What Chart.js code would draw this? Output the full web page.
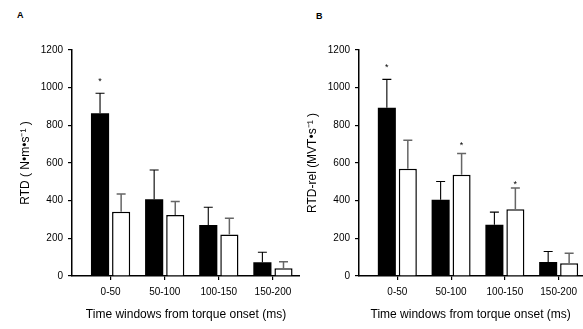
<!DOCTYPE html>
<html>
<head>
<meta charset="utf-8">
<script src="https://cdn.jsdelivr.net/npm/chart.js@4.4.0/dist/chart.umd.min.js"></script>
<style>
  body { margin: 0; background: #fff; width: 583px; height: 329px; position: relative; overflow: hidden; }
  .panel { position: absolute; top: 0; height: 329px; }
  .letter { position: absolute; font: bold 9px "Liberation Sans", Arial, sans-serif; color: #000; }
</style>
</head>
<body>
<div class="letter" style="left:17px;top:10px">A</div>
<div class="letter" style="left:316px;top:11px">B</div>
<div class="panel" style="left:0;width:300px"><canvas id="chartA"></canvas></div>
<div class="panel" style="left:287px;width:296px"><canvas id="chartB"></canvas></div>
<script>
// time windows (ms)
const windows = ['0-50', '50-100', '100-150', '150-200']
const yTicks = [0, 200, 400, 600, 800, 1000, 1200]

// panel A: RTD (N·m·s-1)
const rtdBlack = [864, 407, 271, 73]
const rtdBlackSD = [106, 156, 94, 53]
const rtdWhite = [341, 324, 221, 41]
const rtdWhiteSD = [94, 71, 85, 35]
const rtdStarBlack = [1045, null, null, null]
const rtdStarWhite = [null, null, null, null]

// panel B: RTD-rel (MVT·s-1)
const relBlack = [893, 405, 272, 75]
const relBlackSD = [151, 97, 67, 55]
const relWhite = [570, 538, 355, 68]
const relWhiteSD = [151, 112, 112, 53]
const relStarBlack = [1120, null, null, null]
const relStarWhite = [null, 703, 494, null]

const FONT = "'Liberation Sans', Arial, sans-serif"

// error bars + asterisks drawn on top of the bars
const errorBars = {
  id: 'errorBars',
  afterDatasetsDraw(chart) {
    const ctx = chart.ctx
    const y = chart.scales.y
    chart.data.datasets.forEach((ds, di) => {
      const meta = chart.getDatasetMeta(di)
      meta.data.forEach((bar, i) => {
        const top = y.getPixelForValue(ds.data[i].y + ds.sd[i])
        ctx.save()
        ctx.strokeStyle = ds.errColor
        ctx.lineWidth = ds.errWidth
        ctx.beginPath()
        ctx.moveTo(bar.x, bar.y)
        ctx.lineTo(bar.x, top)
        ctx.moveTo(bar.x - 4.5, top)
        ctx.lineTo(bar.x + 4.5, top)
        ctx.stroke()
        if (ds.stars[i] != null) {
          ctx.fillStyle = '#000'
          ctx.font = '9px ' + FONT
          ctx.textAlign = 'center'
          ctx.textBaseline = 'middle'
          ctx.fillText('*', bar.x, y.getPixelForValue(ds.stars[i]) + 2)
        }
        ctx.restore()
      })
    })
  }
}

function makeChart(id, yTitle, black, blackSD, white, whiteSD, starsBlack, starsWhite, xMax) {
  const pts = arr => arr.map((v, i) => ({ x: i + 1, y: v }))
  return new Chart(document.getElementById(id), {
    type: 'bar',
    data: {
      datasets: [
        {
          data: pts(black), sd: blackSD, stars: starsBlack,
          backgroundColor: '#000', borderWidth: 0,
          errColor: '#000', errWidth: 1.1
        },
        {
          data: pts(white), sd: whiteSD, stars: starsWhite,
          backgroundColor: '#fff', borderColor: '#000', borderWidth: 1.5,
          errColor: '#666', errWidth: 1.5
        }
      ]
    },
    options: {
      responsive: true,
      maintainAspectRatio: false,
      animation: false,
      categoryPercentage: 0.78,
      barPercentage: 0.86,
      layout: { padding: { top: 50, left: 0, right: 0, bottom: 0 } },
      plugins: { legend: { display: false }, tooltip: { enabled: false } },
      scales: {
        x: {
          type: 'linear',
          offset: false,
          min: 0.287,
          max: xMax,
          afterBuildTicks: s => { s.ticks = windows.map((w, i) => ({ value: i + 1 })) },
          afterFit: s => { s.height = 53 },
          grid: { offset: false, drawOnChartArea: false, drawTicks: true, tickLength: 4, color: '#000', lineWidth: 1.2 },
          border: { display: true, color: '#000', width: 1.5 },
          ticks: {
            color: '#000', padding: 6, maxRotation: 0, autoSkip: false,
            font: { family: FONT, size: 10 },
            callback: (v, i) => windows[i]
          },
          title: {
            display: true, text: 'Time windows from torque onset (ms)', color: '#000',
            font: { family: FONT, size: 12 }, padding: { top: 4, bottom: 7 }
          }
        },
        y: {
          min: 0,
          max: 1200,
          afterBuildTicks: s => { s.ticks = yTicks.map(v => ({ value: v })) },
          afterFit: s => { s.width = 72 },
          grid: { drawOnChartArea: false, drawTicks: true, tickLength: 4, color: '#000', lineWidth: 1.2 },
          border: { display: true, color: '#000', width: 1.5 },
          ticks: {
            color: '#000', padding: 5, font: { family: FONT, size: 10 },
            callback: v => String(v)
          },
          title: {
            display: true, text: yTitle, color: '#000',
            font: { family: FONT, size: 12 }, padding: { top: 18, bottom: 0 }
          }
        }
      }
    },
    plugins: [errorBars]
  })
}

makeChart('chartA', 'RTD ( N•m•s⁻¹ )', rtdBlack, rtdBlackSD, rtdWhite, rtdWhiteSD, rtdStarBlack, rtdStarWhite, 4.5)
makeChart('chartB', 'RTD-rel (MVT•s⁻¹ )', relBlack, relBlackSD, relWhite, relWhiteSD, relStarBlack, relStarWhite, 4.44)
</script>
</body>
</html>
